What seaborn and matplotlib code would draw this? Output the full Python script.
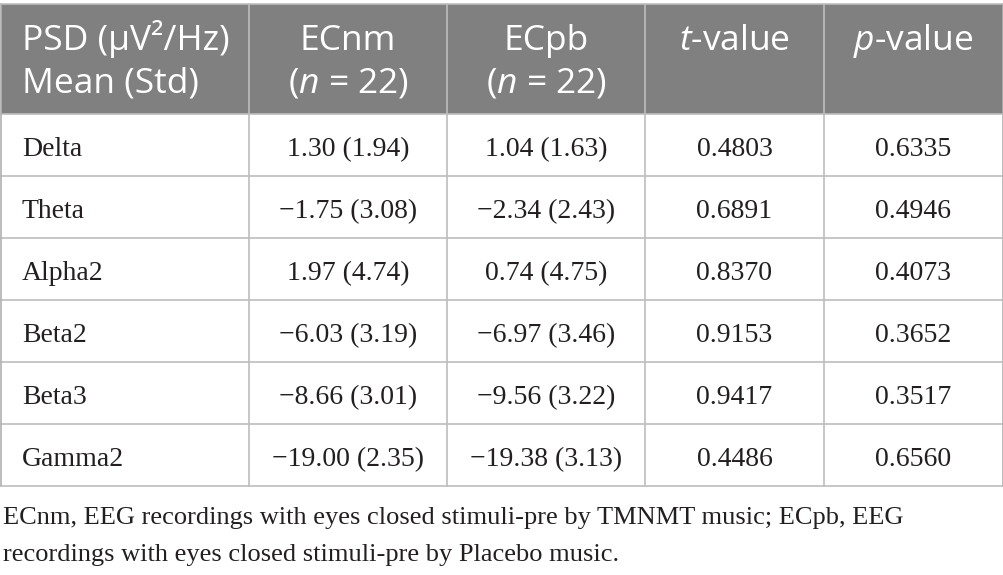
import matplotlib
matplotlib.use("Agg")
import matplotlib.pyplot as plt
import seaborn as sns
import pandas as pd

# ---- data ----
bands = ["Delta", "Theta", "Alpha2", "Beta2", "Beta3", "Gamma2"]
ecnm_mean = [1.30, -1.75, 1.97, -6.03, -8.66, -19.00]
ecnm_std = [1.94, 3.08, 4.74, 3.19, 3.01, 2.35]
ecpb_mean = [1.04, -2.34, 0.74, -6.97, -9.56, -19.38]
ecpb_std = [1.63, 2.43, 4.75, 3.46, 3.22, 3.13]
t_values = [0.4803, 0.6891, 0.8370, 0.9153, 0.9417, 0.4486]
p_values = [0.6335, 0.4946, 0.4073, 0.3652, 0.3517, 0.6560]

header_lines = [
    ["PSD (μV²/Hz)", "Mean (Std)"],
    ["ECnm", r"($n$ = 22)"],
    ["ECpb", r"($n$ = 22)"],
    [r"$t$-value"],
    [r"$p$-value"],
]
footnote = ["ECnm, EEG recordings with eyes closed stimuli-pre by TMNMT music; ECpb, EEG",
            "recordings with eyes closed stimuli-pre by Placebo music."]

def fmt(m, s):
    return f"{m:.2f}".replace("-", "\u2212") + f" ({s:.2f})"

df = pd.DataFrame({
    "band": bands,
    "ecnm": [fmt(m, s) for m, s in zip(ecnm_mean, ecnm_std)],
    "ecpb": [fmt(m, s) for m, s in zip(ecpb_mean, ecpb_std)],
    "t": [f"{v:.4f}" for v in t_values],
    "p": [f"{v:.4f}" for v in p_values],
})

sns.set_theme(style="white")
plt.rcParams["mathtext.fontset"] = "custom"
plt.rcParams["mathtext.it"] = "Open Sans:italic"
plt.rcParams["mathtext.rm"] = "Open Sans"

W, H = 1004, 575
fig = plt.figure(figsize=(W / 100, H / 100), dpi=100)
ax = fig.add_axes([0, 0, 1, 1])
ax.set_xlim(0, W)
ax.set_ylim(H, 0)
ax.axis("off")

col_x = [1, 249, 447, 645, 824, 1003]
head_top, head_bot = 4, 114
row_h = 62
n_rows = len(bands)
table_bot = head_bot + n_rows * row_h

header_bg = "#808080"
line_c = "#bdbdbd"
text_c = "#231f20"

ax.add_patch(plt.Rectangle((col_x[0], head_top), col_x[-1] - col_x[0], head_bot - head_top,
                           facecolor=header_bg, edgecolor="none", zorder=1))
# horizontal lines
ax.plot([col_x[0], col_x[-1]], [head_top, head_top], color=line_c, lw=1.2, zorder=2)
for i in range(n_rows + 1):
    y = head_bot + i * row_h
    ax.plot([col_x[0], col_x[-1]], [y, y], color=line_c, lw=1.2, zorder=2)
# vertical lines
for x in col_x:
    ax.plot([x, x], [head_top, table_bot], color="#b0b0b0" if x in (col_x[0], col_x[-1]) else line_c,
            lw=1.2, zorder=2)

hfont = dict(family="Open Sans", size=25.5, color="white")
for j, lines in enumerate(header_lines):
    for k, s in enumerate(lines):
        y = 50 + k * 43
        if j == 0:
            ax.text(22, y, s, ha="left", va="baseline", zorder=3, **hfont)
        else:
            ax.text((col_x[j] + col_x[j + 1]) / 2, y, s, ha="center", va="baseline", zorder=3, **hfont)

bfont = dict(family="Liberation Serif", size=20, color=text_c)
for i, row in df.iterrows():
    y = head_bot + i * row_h + 42
    ax.text(22, y, row["band"], ha="left", va="baseline", **bfont)
    for j, key in enumerate(["ecnm", "ecpb", "t", "p"], start=1):
        ax.text((col_x[j] + col_x[j + 1]) / 2, y, row[key], ha="center", va="baseline", **bfont)

ffont = dict(bfont, size=19)
for k, s in enumerate(footnote):
    ax.text(3, 524 + k * 37, s, ha="left", va="baseline", **ffont)

fig.savefig("out.png", dpi=100)
